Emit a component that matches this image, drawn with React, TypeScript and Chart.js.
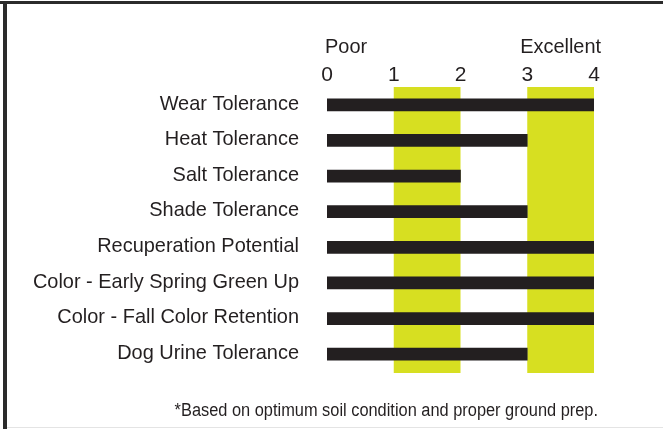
import React, { useEffect, useRef } from "react";
import { Chart, registerables } from "chart.js";

Chart.register(...registerables);

const categories = [
  "Wear Tolerance",
  "Heat Tolerance",
  "Salt Tolerance",
  "Shade Tolerance",
  "Recuperation Potential",
  "Color - Early Spring Green Up",
  "Color - Fall Color Retention",
  "Dog Urine Tolerance",
];
const ratings = [4, 3, 2, 3, 4, 4, 4, 3];
const tickValues = [0, 1, 2, 3, 4];
const highlightBands: [number, number][] = [
  [1, 2],
  [3, 4],
];
const scaleLabels = [
  { text: "Poor", value: 0, align: "left" },
  { text: "Excellent", value: 3.5, align: "center" },
];
const footnote = "*Based on optimum soil condition and proper ground prep.";

const FONT = "'Liberation Sans', Arial, sans-serif";
const TEXT = "#231f20";

function condensedText(
  ctx: CanvasRenderingContext2D,
  text: string,
  x: number,
  y: number,
  align: CanvasTextAlign,
  baseline: CanvasTextBaseline,
  sx: number
) {
  ctx.save();
  ctx.translate(x, y);
  ctx.scale(sx, 1);
  ctx.textAlign = align;
  ctx.textBaseline = baseline;
  ctx.fillText(text, 0, 0);
  ctx.restore();
}

const bandsPlugin = {
  id: "bands",
  beforeDatasetsDraw(chart: any) {
    const { ctx, chartArea, scales } = chart;
    ctx.save();
    ctx.fillStyle = "#d7df21";
    for (const [a, b] of highlightBands) {
      const x1 = scales.x.getPixelForValue(a);
      const x2 = scales.x.getPixelForValue(b);
      ctx.fillRect(x1, chartArea.top, x2 - x1, chartArea.bottom - chartArea.top + 1);
    }
    ctx.restore();
  },
  afterDraw(chart: any) {
    const { ctx, scales } = chart;
    ctx.save();
    ctx.fillStyle = TEXT;
    // category labels (condensed), right-aligned against the y axis
    ctx.font = `21px ${FONT}`;
    const labelRight = scales.y.right - 28;
    categories.forEach((c, i) => {
      condensedText(ctx, c, labelRight, scales.y.getPixelForValue(i) - 1, "right", "middle", 0.95);
    });
    // scale end labels
    ctx.font = `21px ${FONT}`;
    for (const l of scaleLabels) {
      const x = scales.x.getPixelForValue(l.value) + (l.align === "left" ? -2 : 0);
      condensedText(ctx, l.text, x, 53, l.align as CanvasTextAlign, "alphabetic", 0.95);
    }
    ctx.font = `18px ${FONT}`;
    condensedText(ctx, footnote, scales.x.getPixelForValue(4) + 4, 416, "right", "alphabetic", 0.91);
    ctx.restore();
  },
};

export default function App() {
  const ref = useRef<HTMLCanvasElement>(null);
  useEffect(() => {
    const chart = new Chart(ref.current!, {
      type: "bar",
      data: {
        labels: categories,
        datasets: [
          {
            data: ratings,
            backgroundColor: "#231f20",
            barThickness: 12,
          },
        ],
      },
      options: {
        indexAxis: "y",
        animation: false,
        responsive: false,
        maintainAspectRatio: false,
        events: [],
        layout: { padding: { left: 0, right: 69, top: 0, bottom: 57 } },
        plugins: { legend: { display: false }, tooltip: { enabled: false }, title: { display: false } },
        scales: {
          x: {
            position: "top",
            min: 0,
            max: 4,
            afterBuildTicks: (s: any) => {
              s.ticks = tickValues.map((v) => ({ value: v }));
            },
            afterFit: (s: any) => {
              s.height = 87;
            },
            grid: { display: false, drawTicks: false },
            border: { display: false },
            ticks: {
              color: TEXT,
              padding: 1,
              font: { family: FONT, size: 21, lineHeight: 1 },
              maxRotation: 0,
            },
          },
          y: {
            afterFit: (s: any) => {
              s.width = 327;
            },
            grid: { display: false, drawTicks: false },
            border: { display: false },
            ticks: { display: false },
          },
        },
      },
      plugins: [bandsPlugin],
    });
    return () => chart.destroy();
  }, []);

  return (
    <div
      style={{
        position: "fixed",
        left: 0,
        top: 0,
        width: 663,
        height: 429,
        background: "#fff",
      }}
    >
      <div style={{ position: "absolute", left: 0, top: 1, width: 663, height: 3, background: "#2b2b2b" }} />
      <div style={{ position: "absolute", left: 3, top: 1, width: 4, height: 428, background: "#2b2b2b" }} />
      <div style={{ position: "absolute", left: 7, top: 427, width: 656, height: 1, background: "#e4e4e4" }} />
      <canvas ref={ref} width={663} height={429} style={{ position: "absolute", left: 0, top: 0 }} />
    </div>
  );
}
